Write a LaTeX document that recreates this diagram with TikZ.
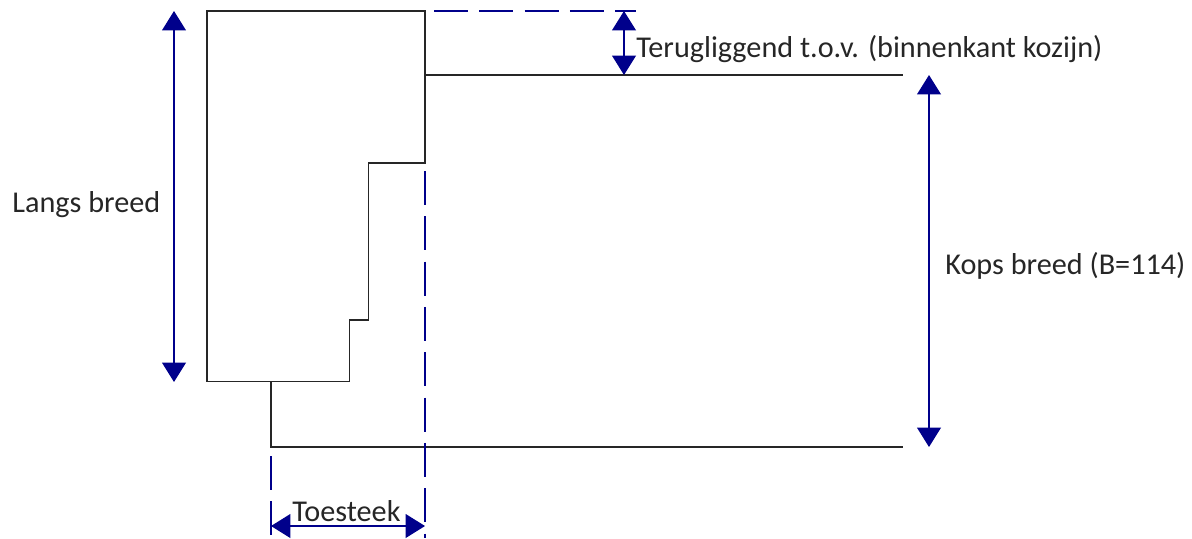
\documentclass[tikz,border=0pt]{standalone}
\usepackage{fontspec}
\setmainfont{Carlito}
\usetikzlibrary{arrows.meta}
\definecolor{dimblue}{RGB}{0,0,139}
\tikzset{
  outline/.style={draw=black!85, line width=1.1pt},
  dimline/.style={draw=dimblue, line width=0.85pt, {Triangle[width=13.5pt,length=11pt]}-{Triangle[width=13.5pt,length=11pt]}},
  guide/.style={draw=dimblue, line width=0.85pt, dash pattern=on 19.3pt off 6.5pt},
  dimtext/.style={inner sep=0pt, font=\fontsize{17.2}{20}\selectfont, text=black!85}
}
\begin{document}
\begin{tikzpicture}[x=0.02cm,y=-0.02cm]
\useasboundingbox (0,0) rectangle (1192,538);
% profile
\coordinate (pa) at (207,11);
\coordinate (pb) at (425,11);
\coordinate (pc) at (425,163);
\coordinate (pd) at (368.5,163);
\coordinate (pe) at (368.5,320);
\coordinate (pf) at (349.5,320);
\coordinate (pg) at (349.5,381.5);
\coordinate (ph) at (207,381.5);
\draw[outline] (pa) -- (pb) -- (pc) -- (pd) -- (pe) -- (pf) -- (pg) -- (ph) -- cycle;
% rabbet lines
\coordinate (ra) at (425,75);
\coordinate (rb) at (903,75);
\coordinate (rc) at (271,381.5);
\coordinate (rd) at (271,447);
\coordinate (re) at (903,447);
\draw[outline] (ra) -- (rb);
\draw[outline] (rc) -- (rd) -- (re);
% guides
\coordinate (ga) at (434,11);
\coordinate (gb) at (636,11);
\coordinate (gc) at (425,171);
\coordinate (gd) at (425,538);
\coordinate (ge) at (271,456);
\coordinate (gf) at (271,538);
\draw[guide] (ga) -- (gb);
\draw[guide] (gc) -- (gd);
\draw[guide] (ge) -- (gf);
% dimensions
\coordinate (la) at (174,11);
\coordinate (lb) at (174,382);
\coordinate (ta) at (624,11);
\coordinate (tb) at (624,75);
\coordinate (ka) at (929,75);
\coordinate (kb) at (929,447);
\coordinate (sa) at (271,526);
\coordinate (sb) at (425,526);
\draw[dimline] (la) -- (lb);
\draw[dimline] (ta) -- (tb);
\draw[dimline] (ka) -- (kb);
\draw[dimline] (sa) -- (sb);
% labels
\node[dimtext, anchor=west] (langs) at (12,205) {Langs breed};
\node[dimtext, anchor=west] (terug) at (636,49) {Terugliggend t.o.v. (binnenkant kozijn)};
\node[dimtext, anchor=west] (kops) at (945,266) {Kops breed (B=114)};
\node[dimtext, anchor=west] (toe) at (292,511) {Toesteek};
\end{tikzpicture}
\end{document}
